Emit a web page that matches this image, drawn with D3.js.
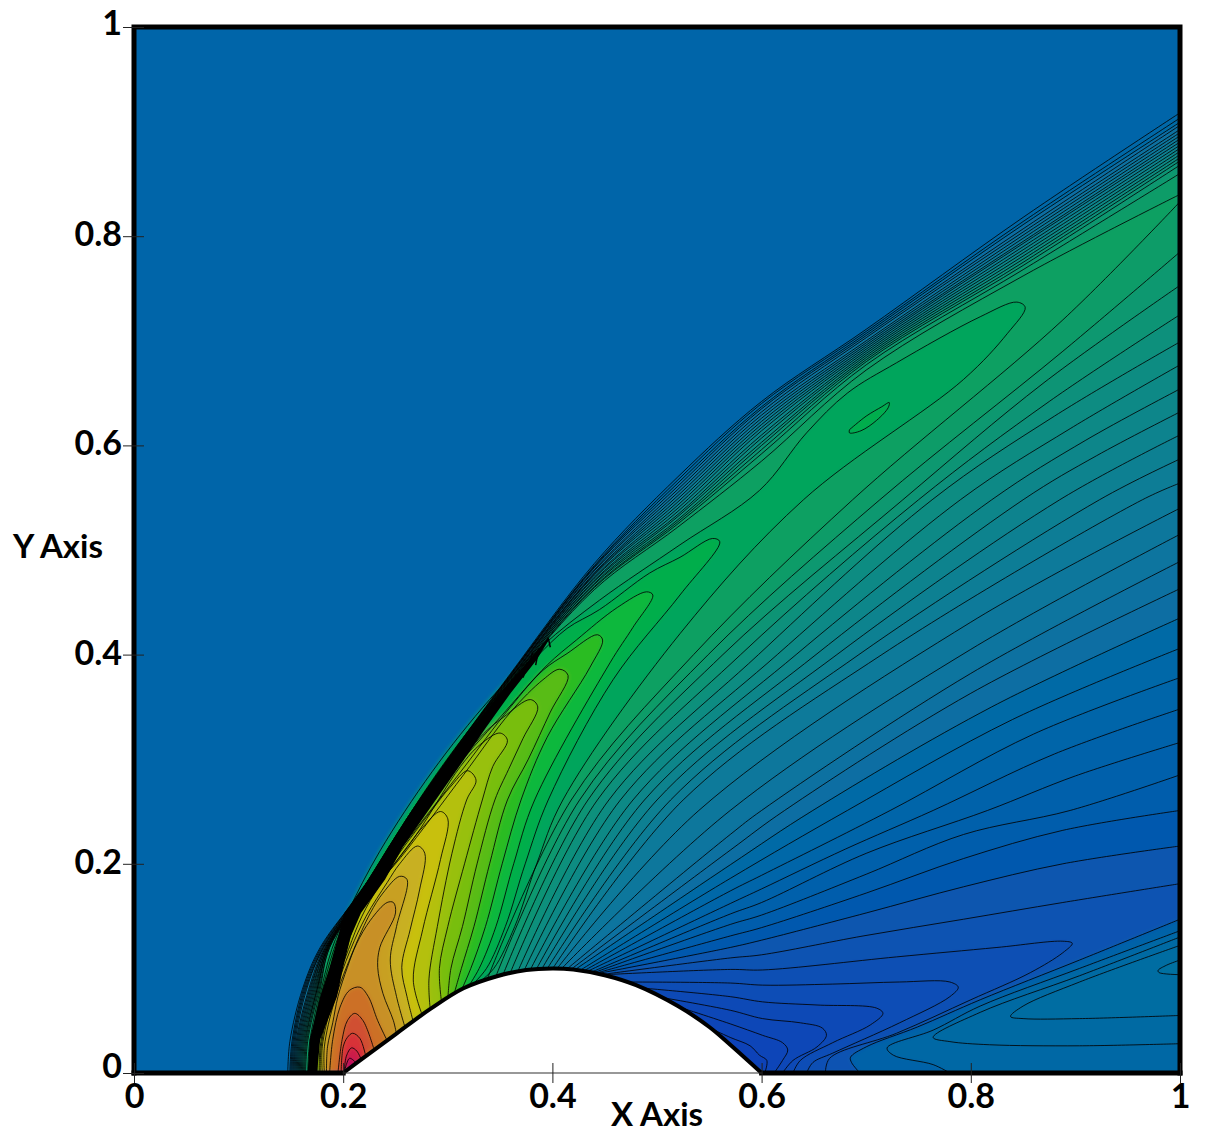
<!DOCTYPE html>
<html><head><meta charset="utf-8">
<script src="https://cdn.jsdelivr.net/npm/d3@7"></script>
<style>html,body{margin:0;padding:0;background:#fff}svg{display:block}text{font-family:Lato,sans-serif;font-weight:700;fill:#000}</style>
</head><body><div id="chart"></div>
<script>
const tickValues=[0,0.2,0.4,0.6,0.8,1];
const tickLabels=["0","0.2","0.4","0.6","0.8","1"];
const bump=[[.2,0],[.22,.015],[.25,.037],[.283,.061],[.315,.081],[.347,.0925],[.375,.0985],[.4,.1],[.42,.099],[.45,.0935],[.48,.084],[.52,.064],[.55,.044],[.57,.027],[.6,0]];
const shockYs=[0,.03,.08,.12];
const shockXs=[.22,.26,.30,.36,.44,.52,.60,.70,.85,1];
const shockRows=[
[.147,.149,.161,.178,.178,.242,.300,.382,.487,.570,.642,.711,.818,.918],
[.149,.151,.162,.179,.178,.242,.300,.381,.485,.567,.640,.709,.814,.913],
[.150,.152,.163,.180,.178,.241,.299,.381,.484,.564,.637,.707,.811,.909],
[.151,.153,.164,.181,.177,.241,.299,.380,.483,.561,.635,.705,.807,.906],
[.152,.154,.165,.181,.177,.241,.298,.380,.481,.558,.632,.703,.804,.902],
[.153,.155,.167,.182,.177,.240,.298,.379,.480,.555,.629,.700,.801,.899],
[.154,.156,.168,.183,.176,.240,.298,.378,.478,.552,.626,.698,.798,.896],
[.155,.157,.169,.183,.176,.240,.297,.378,.477,.549,.623,.696,.795,.893],
[.156,.158,.170,.184,.176,.239,.297,.377,.476,.546,.620,.694,.793,.890],
[.157,.159,.171,.184,.175,.239,.296,.377,.474,.543,.617,.692,.790,.887],
[.158,.160,.172,.185,.175,.239,.296,.376,.473,.540,.614,.690,.787,.884],
[.159,.161,.173,.185,.175,.238,.296,.375,.471,.537,.610,.688,.784,.881],
[.160,.162,.174,.185,.174,.238,.295,.375,.470,.534,.607,.686,.781,.878],
[.161,.163,.175,.186,.174,.238,.295,.374,.468,.532,.603,.684,.778,.875],
[.162,.164,.175,.186,.174,.237,.294,.374,.467,.529,.600,.682,.775,.872],
[.163,.165,.176,.186,.173,.237,.294,.373,.465,.527,.596,.680,.772,.868],
[.164,.166,.177,.187,.173,.236,.293,.372,.464,.525,.592,.677,.768,.860],
[.166,.168,.178,.187,.172,.236,.293,.372,.462,.522,.585,.672,.762,.840]];
const fanLines=[
[[.337,.088],[.418,.261],[.535,.40],[.687,.548],[.888,.72],[1,.833]],
[[.345,.090],[.426,.261],[.549,.40],[.713,.548],[.888,.69],[1,.785]],
[[.352,.092],[.434,.261],[.563,.40],[.735,.548],[.87,.66],[1,.753]],
[[.359,.094],[.443,.261],[.58,.40],[.75,.548],[.875,.642],[1,.725]],
[[.366,.095],[.454,.261],[.597,.40],[.763,.548],[.88,.628],[1,.699]],
[[.372,.096],[.465,.261],[.615,.40],[.79,.548],[.895,.616],[1,.677]],
[[.378,.097],[.477,.261],[.633,.40],[.82,.548],[.91,.605],[1,.654]],
[[.384,.098],[.488,.261],[.652,.40],[.85,.548],[.92,.59],[1,.632]],
[[.389,.098],[.50,.261],[.672,.40],[.885,.548],[1,.61]],
[[.394,.098],[.513,.261],[.693,.40],[.923,.548],[1,.587]],
[[.399,.098],[.525,.261],[.715,.40],[.964,.548],[1,.564]],
[[.403,.098],[.54,.251],[.8,.431],[1,.54]],
[[.407,.098],[.57,.251],[.8,.405],[1,.515]],
[[.411,.097],[.57,.228],[.6,.251],[.8,.382],[1,.489]],
[[.415,.097],[.57,.213],[.622,.251],[.8,.363],[1,.463]],
[[.419,.097],[.57,.199],[.649,.251],[.82,.35],[1,.435]],
[[.423,.096],[.57,.186],[.682,.251],[.84,.338],[1,.406]],
[[.427,.096],[.57,.174],[.6,.189],[.723,.251],[.86,.324],[1,.378]],
[[.431,.096],[.57,.162],[.6,.176],[.68,.214],[.764,.251],[.88,.305],[1,.348]],
[[.434,.095],[.57,.152],[.6,.163],[.7,.21],[.816,.251],[.9,.284],[1,.316]],
[[.437,.095],[.57,.142],[.6,.151],[.7,.19],[.793,.228],[.895,.251],[1,.285]],
[[.44,.095],[.57,.131],[.6,.139],[.7,.172],[.793,.205],[.888,.232],[1,.251]],
[[.443,.095],[.57,.12],[.6,.127],[.7,.153],[.793,.178],[.888,.2],[1,.217]],
[[.446,.094],[.57,.11],[.6,.113],[.697,.131],[.793,.147],[.888,.163],[1,.181]]];
const lowHairpins=[
[[.45,.094],[.57,.099],[.601,.0985],[.729,.111],[.825,.12],[.888,.126],[.897,.124],[.888,.115],[.857,.096],[.80,.07],[.729,.038],[.665,.014],[.661,0]],
[[.467,.087],[.57,.086],[.601,.084],[.668,.085],[.732,.087],[.78,.087],[.788,.082],[.78,.073],[.732,.048],[.668,.019],[.649,.01],[.643,0]],
[[.477,.082],[.57,.073],[.601,.068],[.653,.065],[.71,.062],[.716,.057],[.704,.046],[.668,.029],[.637,.012],[.63,0]],
[[.5,.073],[.57,.060],[.601,.052],[.637,.048],[.658,.043],[.662,.036],[.653,.025],[.63,.012],[.62,0]],
[[.512,.066],[.57,.047],[.601,.036],[.62,.029],[.625,.022],[.62,.012],[.612,0]],
[[.538,.049],[.57,.034],[.589,.026],[.598,.017],[.605,.012],[.603,0]]];
const tailLines=[
[[1,.147],[.904,.108],[.809,.07],[.749,.044],[.70,.025],[.685,.015],[.686,.01],[.694,0]],
[[1,.136],[.904,.10],[.809,.064],[.764,.041],[.72,.024],[.726,.017],[.764,.008],[.78,0]],
[[1,.13],[.904,.093],[.809,.058],[.764,.034],[.78,.03],[.818,.027],[.904,.026],[1,.028]],
[[1,.122],[.904,.087],[.85,.064],[.838,.054],[.85,.052],[.904,.052],[1,.055]],
[[1,.108],[.987,.103],[.979,.098],[.98,.096],[1,.094]]];
const hairpins=[
[[.329,.086],[.344,.10],[.364,.14],[.385,.2],[.41,.261],[.522,.42],[.64,.548],[.793,.663],[.835,.707],[.852,.732],[.844,.737],[.809,.723],[.729,.679],[.682,.65],[.643,.612],[.598,.557],[.522,.505],[.445,.452],[.39,.408],[.34,.357],[.285,.288],[.235,.212],[.205,.155],[.189,.118],[.177,.07],[.169,.025],[.167,0]],
[[.323,.084],[.337,.10],[.355,.14],[.374,.2],[.396,.261],[.458,.376],[.522,.457],[.56,.508],[.553,.511],[.522,.493],[.493,.478],[.445,.443],[.414,.425],[.385,.398],[.34,.352],[.29,.287],[.24,.21],[.204,.15],[.191,.118],[.178,.07],[.17,.025],[.168,0]],
[[.318,.08],[.33,.10],[.346,.14],[.363,.2],[.383,.261],[.455,.392],[.477,.426],[.496,.457],[.49,.46],[.462,.445],[.423,.414],[.395,.39],[.35,.34],[.30,.283],[.245,.21],[.204,.15],[.193,.118],[.18,.07],[.171,.025],[.17,0]],
[[.312,.077],[.322,.10],[.336,.14],[.352,.2],[.37,.261],[.395,.321],[.436,.388],[.448,.414],[.443,.419],[.414,.401],[.391,.385],[.36,.35],[.31,.285],[.25,.208],[.206,.15],[.195,.118],[.181,.07],[.172,.025],[.171,0]],
[[.305,.072],[.313,.10],[.325,.14],[.34,.2],[.357,.261],[.377,.30],[.398,.345],[.415,.38],[.407,.386],[.391,.376],[.36,.345],[.315,.285],[.255,.206],[.208,.15],[.197,.118],[.182,.07],[.174,.025],[.172,0]],
[[.30,.07],[.303,.10],[.314,.14],[.328,.2],[.345,.261],[.358,.29],[.372,.32],[.386,.35],[.379,.357],[.353,.34],[.331,.321],[.29,.265],[.21,.15],[.199,.118],[.184,.07],[.175,.025],[.174,0]],
[[.294,.068],[.292,.10],[.30,.14],[.316,.2],[.333,.261],[.343,.293],[.357,.318],[.35,.325],[.331,.314],[.312,.293],[.268,.225],[.212,.15],[.201,.118],[.185,.07],[.176,.025],[.175,0]],
[[.283,.063],[.282,.09],[.29,.14],[.304,.21],[.318,.261],[.327,.28],[.319,.289],[.302,.273],[.286,.253],[.25,.205],[.214,.15],[.203,.118],[.187,.07],[.178,.025],[.177,0]],
[[.275,.057],[.267,.089],[.276,.137],[.293,.204],[.30,.243],[.293,.25],[.276,.235],[.264,.22],[.235,.18],[.218,.15],[.205,.118],[.188,.07],[.179,.025],[.178,0]],
[[.267,.049],[.261,.073],[.256,.101],[.264,.137],[.273,.175],[.278,.21],[.271,.217],[.254,.2],[.242,.182],[.222,.15],[.207,.118],[.19,.07],[.18,.025],[.18,0]],
[[.259,.044],[.251,.073],[.245,.108],[.251,.14],[.261,.185],[.254,.188],[.238,.172],[.226,.153],[.21,.118],[.192,.07],[.182,.025],[.182,0]],
[[.251,.037],[.248,.05],[.238,.076],[.233,.101],[.235,.12],[.25,.153],[.248,.163],[.242,.163],[.226,.146],[.213,.124],[.204,.101],[.195,.073],[.19,.048],[.185,.025],[.184,0]],
[[.242,.031],[.233,.05],[.224,.073],[.216,.082],[.206,.079],[.197,.063],[.19,.032],[.187,0]],
[[.229,.024],[.219,.05],[.211,.057],[.204,.05],[.199,.032],[.195,0]],
[[.222,.014],[.216,.033],[.209,.038],[.204,.034],[.2,.025],[.198,0]],
[[.218,.011],[.213,.021],[.208,.024],[.203,.016],[.201,0]],
[[.214,.007],[.21,.012],[.206,.014],[.203,.008],[.201,0]]];
const ridgeLoop=[[.684,.615],[.70,.628],[.715,.637],[.722,.641],[.721,.636],[.71,.624],[.695,.614],[.684,.612],[.684,.615]];
const shockBand=[[.166,0],[.168,.032],[.178,.073],[.187,.101],[.195,.13],[.201,.153],[.224,.185],[.243,.216],[.299,.299],[.325,.331],[.35,.363],[.378,.395],[.396,.416],[.396,.413],[.385,.395],[.36,.363],[.337,.331],[.315,.299],[.257,.216],[.24,.185],[.217,.153],[.207,.13],[.2,.101],[.194,.073],[.178,.032],[.175,0]];
const hatchMarks=[[[.396,.416],[.398,.407]],[[.387,.406],[.384,.39]],[[.381,.402],[.377,.387]],[[.376,.393],[.372,.378]]];
const freestreamColor="#0565a9";
const riseLevels=[0,6,12,17,18,19,20,21,22,23,24,25,26,27,28,29,30,31,32,33,34];
const riseColors=["#0568a8","#0a7a9a","#0a8c82","#08a062","#06a55c","#06ae4c","#10b83c","#2cbc24","#58bc18","#78be10","#98c008","#b4c008","#c8c010","#c8b020","#c8a024","#c89028","#cc7028","#d05030","#d83038","#cc1a48","#bc105e"];
const fallColors=["#0562aa","#0560ab","#055dac","#0559ae","#0756af","#0852b2"];
const lowColors=["#0850b4","#084db6","#084ab6","#0947b7","#0a45b8","#0a42b8"];
const tailColors=["#0662a8","#0668a5","#066ba3","#066da2","#0670a0"];

const W=1205,H=1144;
const x=d3.scaleLinear().domain([0,1]).range([134,1180]);
const y=d3.scaleLinear().domain([0,1]).range([1073,27]);
const riseColor=d3.scaleLinear().domain(riseLevels).range(riseColors);
const curve=d3.line().x(d=>x(d[0])).y(d=>y(d[1])).curve(d3.curveCatmullRom.alpha(0.5));
const straight=d3.line().x(d=>x(d[0])).y(d=>y(d[1]));
const svg=d3.select("#chart").append("svg").attr("width",W).attr("height",H);
const defs=svg.append("defs");
defs.append("clipPath").attr("id","plot").append("rect").attr("x",x(0)).attr("y",y(1)).attr("width",x(1)-x(0)).attr("height",y(0)-y(1));
defs.append("filter").attr("id","soft").attr("filterUnits","userSpaceOnUse")
  .attr("x",0).attr("y",0).attr("width",W).attr("height",H).append("feGaussianBlur").attr("stdDeviation",2);

const shockPts=r=>[...shockYs.map((v,i)=>[r[i],v]),...shockXs.map((v,i)=>[v,r[i+4]])];
const P=(a,b)=>"L"+x(a)+","+y(b);

const plot=svg.append("g").attr("clip-path","url(#plot)");
plot.append("rect").attr("x",x(0)-10).attr("y",y(1)-10).attr("width",x(1)-x(0)+20).attr("height",y(0)-y(1)+20).attr("fill",freestreamColor);
const fills=plot.append("g").attr("filter","url(#soft)");
fills.append("rect").attr("x",x(0)-10).attr("y",y(1)-10).attr("width",x(1)-x(0)+20).attr("height",y(0)-y(1)+20).attr("fill",freestreamColor);

const nS=shockRows.length;
shockRows.forEach((r,i)=>{
  const fan=fanLines[nS-1-i];
  const d=curve(shockPts(r))+curve(fan.slice().reverse()).replace(/^M/,"L")+P(.2,0)+"Z";
  fills.append("path").attr("d",d).attr("fill",riseColor(i));
});
hairpins.forEach((h,i)=>{
  const d=curve(h)+P(.2,0)+"Z";
  fills.append("path").attr("d",d).attr("fill",riseColor(nS+i));
});
fills.append("path").attr("d",curve(ridgeLoop)+"Z").attr("fill",riseColor(nS+1));

fanLines.slice(nS).forEach((f,i)=>{
  const d=curve(f)+P(1,0)+P(.6,0)+"Z";
  fills.append("path").attr("d",d).attr("fill",fallColors[i]);
});
lowHairpins.forEach((h,i)=>{
  const d=curve(h)+P(.6,0)+"Z";
  fills.append("path").attr("d",d).attr("fill",lowColors[i]);
});
tailLines.forEach((t,i)=>{
  const d=curve(t)+(i<2?P(1,0):"")+"Z";
  fills.append("path").attr("d",d).attr("fill",tailColors[i]);
});

const lines=plot.append("g").attr("fill","none").attr("stroke","#000").attr("stroke-width",1).attr("stroke-opacity",0.82);
const allLines=[...shockRows.map(shockPts),...fanLines,...hairpins,ridgeLoop,...lowHairpins,...tailLines];
lines.selectAll("path").data(allLines).join("path").attr("d",d=>curve(d));
plot.append("path").attr("d",straight(shockBand)+"Z").attr("fill","#000");
plot.append("g").attr("stroke","#000").attr("stroke-width",1.5).selectAll("path").data(hatchMarks).join("path").attr("d",d=>straight(d));

plot.append("path").attr("d",curve(bump)+"Z").attr("fill","#fff");
svg.append("path").attr("d",curve(bump)).attr("fill","none").attr("stroke","#000").attr("stroke-width",4);

const frame=svg.append("g").attr("stroke","#000").attr("stroke-linecap","square").attr("fill","none");
frame.append("path").attr("d",straight([[0,0],[0,1],[1,1],[1,0]])).attr("stroke-width",5);
frame.append("path").attr("d",straight([[0,0],[.2,0]])).attr("stroke-width",5);
frame.append("path").attr("d",straight([[.6,0],[1,0]])).attr("stroke-width",5);
frame.append("path").attr("d",straight([[.2,0],[.6,0]])).attr("stroke-width",1.2).attr("stroke","#333");

const fmt=d=>tickLabels[tickValues.indexOf(d)];
const ax=svg.append("g").attr("transform",`translate(0,${y(0)})`).call(d3.axisBottom(x).tickValues(tickValues).tickFormat(fmt).tickSize(10).tickPadding(12));
const ay=svg.append("g").attr("transform",`translate(${x(0)},0)`).call(d3.axisLeft(y).tickValues(tickValues).tickFormat(fmt).tickSize(10).tickPadding(3));
[ax,ay].forEach(g=>{g.select(".domain").remove();g.selectAll("text").style("font-family","Lato,sans-serif").style("font-weight",700).style("font-size","34px").attr("fill","#000");g.selectAll("line").attr("stroke","#222").attr("stroke-width",1);});
ax.selectAll("line").attr("y1",-10);
ay.selectAll("line").attr("x1",10).attr("x2",-11);
ax.selectAll("text").attr("dy","0.32em").attr("y",24);
ay.selectAll("text").attr("x",-12).attr("dy","0.28em");
ay.selectAll(".tick").filter(d=>d===0).select("text").attr("y",-5);
ay.selectAll(".tick").filter(d=>d===1).select("text").attr("y",-2);
svg.append("text").attr("x",58).attr("y",546).attr("text-anchor","middle").attr("dy","0.35em").style("font-size","33px").text("Y Axis");
svg.append("text").attr("x",657).attr("y",1114).attr("text-anchor","middle").attr("dy","0.35em").style("font-size","33px").text("X Axis");
</script></body></html>
